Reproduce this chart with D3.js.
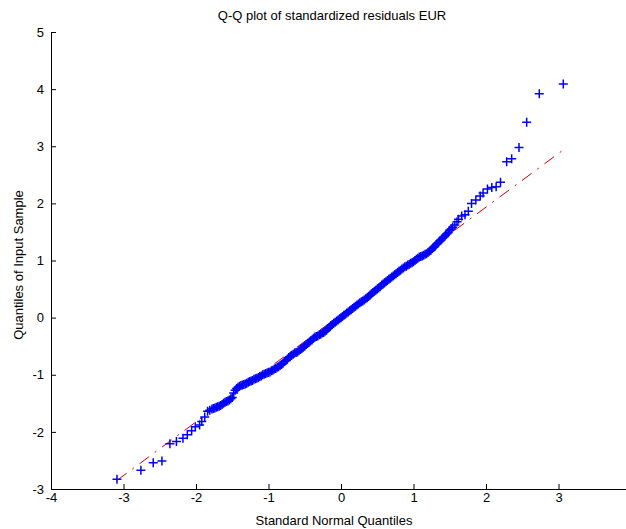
<!DOCTYPE html>
<html lang="en">
<head>
<meta charset="utf-8">
<title>Q-Q plot of standardized residuals EUR</title>
<script src="https://d3js.org/d3.v7.min.js"></script>
<style>
    body { margin: 0; background: #fff; }
    text { font-family: "Liberation Sans", Arial, sans-serif; font-size: 13px; fill: #000; }
    .axis path, .axis line { stroke: #000; stroke-width: 1px; }
    .axis text { font-family: "Liberation Sans", Arial, sans-serif; font-size: 13px; fill: #000; }
    .pt { stroke: #0000ff; stroke-width: 1.5px; fill: none; }
    .ref { stroke: #e00000; stroke-width: 1px; fill: none; stroke-dasharray: 12,7,2,7; }
</style>
</head>
<body>
<script>
const w = 626;
const h = 529;

// theoretical (standard normal) quantiles
const theoQ = [
    -3.09, -2.76, -2.59, -2.47, -2.36, -2.27, -2.18, -2.12, -2.06, -2.01,
    -1.95, -1.92, -1.88, -1.84, -1.81, -1.78, -1.76, -1.74, -1.72, -1.70,
    -1.68, -1.66, -1.64, -1.62, -1.60, -1.58, -1.56, -1.54, -1.52, -1.50,
    -1.48, -1.46, -1.44, -1.42, -1.40, -1.38, -1.36, -1.34, -1.32, -1.30,
    -1.28, -1.26, -1.24, -1.22, -1.20, -1.18, -1.16, -1.14, -1.12, -1.10,
    -1.08, -1.06, -1.04, -1.02, -1.00, -0.98, -0.96, -0.94, -0.92, -0.90,
    -0.88, -0.86, -0.84, -0.82, -0.80, -0.78, -0.76, -0.74, -0.72, -0.70,
    -0.68, -0.66, -0.64, -0.62, -0.60, -0.58, -0.56, -0.54, -0.52, -0.50,
    -0.48, -0.46, -0.44, -0.42, -0.40, -0.38, -0.36, -0.34, -0.32, -0.30,
    -0.28, -0.26, -0.24, -0.22, -0.20, -0.18, -0.16, -0.14, -0.12, -0.10,
    -0.08, -0.06, -0.04, -0.02, 0.00, 0.02, 0.04, 0.06, 0.08, 0.10,
    0.12, 0.14, 0.16, 0.18, 0.20, 0.22, 0.24, 0.26, 0.28, 0.30,
    0.32, 0.34, 0.36, 0.38, 0.40, 0.42, 0.44, 0.46, 0.48, 0.50,
    0.52, 0.54, 0.56, 0.58, 0.60, 0.62, 0.64, 0.66, 0.68, 0.70,
    0.72, 0.74, 0.76, 0.78, 0.80, 0.82, 0.84, 0.86, 0.88, 0.90,
    0.92, 0.94, 0.96, 0.98, 1.00, 1.02, 1.04, 1.06, 1.08, 1.10,
    1.12, 1.14, 1.16, 1.18, 1.20, 1.22, 1.24, 1.26, 1.28, 1.30,
    1.32, 1.34, 1.36, 1.38, 1.40, 1.42, 1.44, 1.46, 1.48, 1.50,
    1.52, 1.54, 1.57, 1.60, 1.62, 1.665, 1.71, 1.756, 1.80, 1.86,
    1.92, 1.96, 2.02, 2.08, 2.14, 2.20, 2.285, 2.354, 2.455, 2.561,
    2.735, 3.066
];

// sample quantiles (standardized residuals)
const sampleQ = [
    -2.83, -2.67, -2.54, -2.51, -2.21, -2.17, -2.11, -2.05, -1.98, -1.91,
    -1.88, -1.82, -1.74, -1.64, -1.62, -1.60, -1.59, -1.58, -1.57, -1.56,
    -1.55, -1.54, -1.52, -1.50, -1.48, -1.47, -1.46, -1.44, -1.42, -1.40,
    -1.32, -1.27, -1.24, -1.22, -1.20, -1.19, -1.18, -1.17, -1.16, -1.15,
    -1.13, -1.12, -1.11, -1.10, -1.08, -1.07, -1.06, -1.05, -1.03, -1.02,
    -1.00, -0.99, -0.98, -0.97, -0.96, -0.95, -0.93, -0.92, -0.90, -0.89,
    -0.87, -0.86, -0.84, -0.82, -0.80, -0.77, -0.75, -0.73, -0.70, -0.68,
    -0.66, -0.64, -0.62, -0.61, -0.60, -0.58, -0.56, -0.54, -0.52, -0.50,
    -0.47, -0.45, -0.43, -0.41, -0.39, -0.36, -0.34, -0.33, -0.32, -0.30,
    -0.29, -0.27, -0.26, -0.24, -0.22, -0.19, -0.17, -0.14, -0.12, -0.10,
    -0.08, -0.06, -0.04, -0.02, 0.00, 0.02, 0.04, 0.06, 0.08, 0.10,
    0.12, 0.14, 0.16, 0.18, 0.20, 0.22, 0.24, 0.26, 0.28, 0.29,
    0.31, 0.33, 0.35, 0.37, 0.39, 0.42, 0.44, 0.46, 0.48, 0.50,
    0.52, 0.54, 0.57, 0.59, 0.61, 0.63, 0.65, 0.67, 0.69, 0.71,
    0.73, 0.75, 0.77, 0.79, 0.81, 0.83, 0.85, 0.87, 0.89, 0.90,
    0.92, 0.93, 0.95, 0.96, 0.98, 1.00, 1.02, 1.04, 1.06, 1.07,
    1.08, 1.09, 1.11, 1.12, 1.14, 1.16, 1.18, 1.21, 1.23, 1.26,
    1.29, 1.31, 1.34, 1.36, 1.39, 1.41, 1.44, 1.47, 1.49, 1.53,
    1.55, 1.58, 1.62, 1.68, 1.72, 1.78, 1.80, 1.86, 2.00, 2.06,
    2.13, 2.18, 2.25, 2.28, 2.29, 2.37, 2.73, 2.78, 2.98, 3.42,
    3.92, 4.09
];

// reference line end points (dash-dot, red)
const refX = [-3.09, 3.07];
const refY = [-2.85, 2.94];

const xTicks = [-4, -3, -2, -1, 0, 1, 2, 3];
const yTicks = [-3, -2, -1, 0, 1, 2, 3, 4, 5];

const titleText = "Q-Q plot of standardized residuals EUR";
const xLabelText = "Standard Normal Quantiles";
const yLabelText = "Quantiles of Input Sample";

console.assert(theoQ.length === sampleQ.length, "length mismatch");

const xScale = d3.scaleLinear().domain([-4, 4]).range([51, 631]);
const yScale = d3.scaleLinear().domain([-3, 5]).range([489, 32]);

const svg = d3.select("body")
              .append("svg")
              .attr("width", w)
              .attr("height", h);

// axes, ticks pointing inward
svg.append("g")
   .attr("class", "axis")
   .attr("transform", "translate(0," + yScale(-3) + ")")
   .call(d3.axisBottom(xScale).tickValues(xTicks).tickSizeInner(-5).tickSizeOuter(0).tickPadding(4).tickFormat(d3.format("d")));

svg.append("g")
   .attr("class", "axis")
   .attr("transform", "translate(" + xScale(-4) + ",0)")
   .call(d3.axisLeft(yScale).tickValues(yTicks).tickSizeInner(-5).tickSizeOuter(0).tickPadding(7).tickFormat(d3.format("d")));

svg.selectAll(".axis text").text(function() { return this.textContent.replace("\u2212", "-"); });

// reference line
const refLine = d3.line()
                  .x(d => xScale(d[0]))
                  .y(d => yScale(d[1]));

svg.append("path")
   .datum(refX.map((x, i) => [x, refY[i]]))
   .attr("class", "ref")
   .attr("d", refLine);

// '+' markers
const pts = theoQ.map((x, i) => ({x: x, y: sampleQ[i]}));
const s = 4.5;
svg.append("g")
   .selectAll("path")
   .data(pts)
   .join("path")
   .attr("class", "pt")
   .attr("d", d => {
       const cx = xScale(d.x), cy = yScale(d.y);
       return "M" + (cx - s) + "," + cy + "h" + (2 * s) + "M" + cx + "," + (cy - s) + "v" + (2 * s);
   });

// titles
svg.append("text")
   .attr("x", 332)
   .attr("y", 20)
   .attr("text-anchor", "middle")
   .text(titleText);

svg.append("text")
   .attr("x", 334)
   .attr("y", 525)
   .attr("text-anchor", "middle")
   .text(xLabelText);

svg.append("text")
   .attr("transform", "translate(23," + 265 + ") rotate(-90)")
   .attr("text-anchor", "middle")
   .text(yLabelText);
</script>
</body>
</html>
